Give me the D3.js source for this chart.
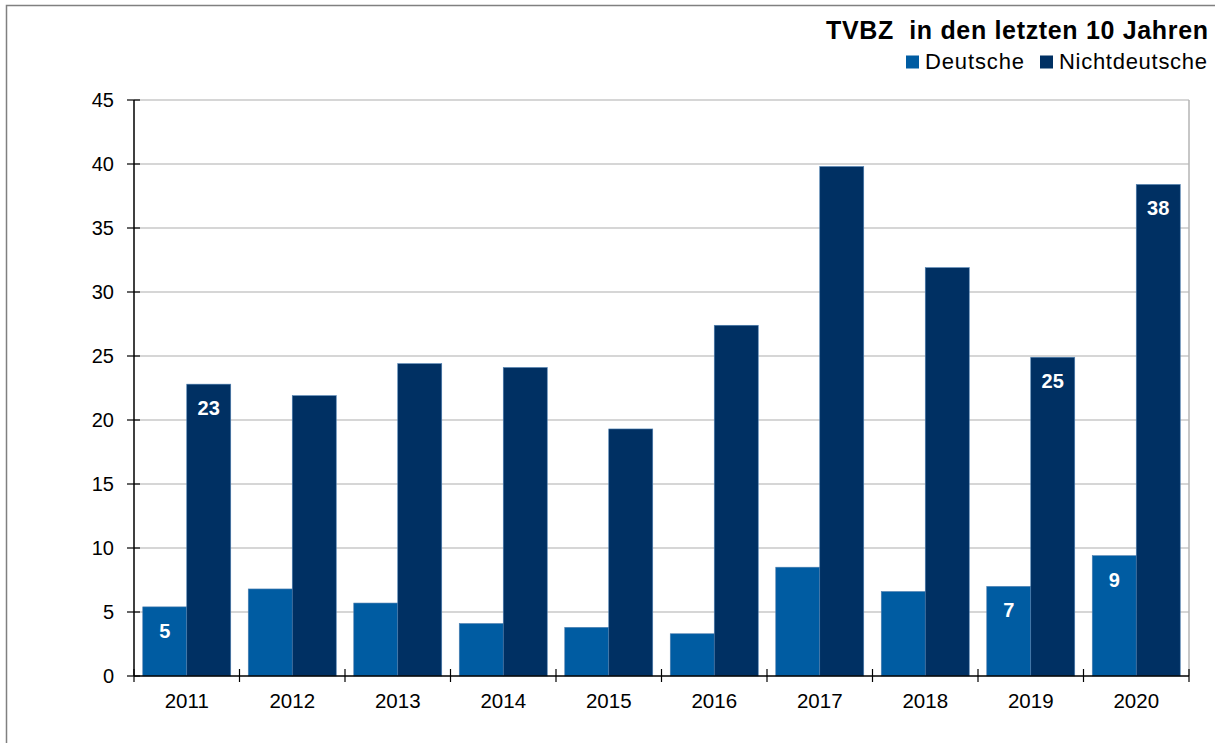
<!DOCTYPE html>
<html>
<head>
<meta charset="utf-8">
<script src="https://cdn.jsdelivr.net/npm/d3@7"></script>
<style>
  body { margin: 0; background: #fff; }
  svg { display: block; font-family: "Liberation Sans", Arial, sans-serif; }
</style>
</head>
<body>
<svg id="chart" width="1215" height="743"></svg>
<script>
"use strict";

// data
const years = ['2011', '2012', '2013', '2014', '2015', '2016', '2017', '2018', '2019', '2020'];
const deutsche = [5.4, 6.8, 5.7, 4.1, 3.8, 3.3, 8.5, 6.6, 7.0, 9.4];
const nichtdeutsche = [22.8, 21.9, 24.4, 24.1, 19.3, 27.4, 39.8, 31.9, 24.9, 38.4];
// which bars carry a value label in the original
const labelYears = ['2011', '2019', '2020'];
const yTicks = [0, 5, 10, 15, 20, 25, 30, 35, 40, 45];
const seriesNames = ['Deutsche', 'Nichtdeutsche'];
const colors = ['#005ca2', '#003063'];

(function () {
  const svg = d3.select('#chart');
  const left = 134, right = 1189, top = 100, bottom = 676;

  // outer frame
  svg.append('path')
    .attr('d', 'M6.5,743 V5.5 H1215')
    .attr('fill', 'none')
    .attr('stroke', '#808080')
    .attr('stroke-width', 1.5);

  const x0 = d3.scaleBand()
    .domain(years)
    .range([left, right])
    .paddingInner(0.166)
    .paddingOuter(0.083);

  const x1 = d3.scaleBand()
    .domain(seriesNames)
    .range([0, x0.bandwidth()]);

  const y = d3.scaleLinear()
    .domain([0, 45])
    .range([bottom, top]);

  // gridlines
  svg.append('g')
    .selectAll('line')
    .data(yTicks.filter(d => d > 0))
    .enter()
    .append('line')
    .attr('x1', left)
    .attr('x2', right)
    .attr('y1', d => y(d))
    .attr('y2', d => y(d))
    .attr('stroke', '#c8c8c8')
    .attr('stroke-width', 1.5);

  // right border of plot area
  svg.append('line')
    .attr('x1', right).attr('x2', right)
    .attr('y1', top).attr('y2', bottom)
    .attr('stroke', '#b4b4b4')
    .attr('stroke-width', 1.5);

  const rows = years.map((yr, i) => ({
    year: yr,
    values: [
      { key: seriesNames[0], val: deutsche[i], c: colors[0] },
      { key: seriesNames[1], val: nichtdeutsche[i], c: colors[1] }
    ]
  }));

  const groups = svg.append('g')
    .selectAll('g')
    .data(rows)
    .enter()
    .append('g')
    .attr('transform', d => 'translate(' + x0(d.year) + ',0)');

  groups.selectAll('rect')
    .data(d => d.values)
    .enter()
    .append('rect')
    .attr('x', d => x1(d.key))
    .attr('width', x1.bandwidth())
    .attr('y', d => y(d.val))
    .attr('height', d => y(0) - y(d.val))
    .attr('fill', d => d.c)
    .attr('stroke', '#4d7fb0')
    .attr('stroke-width', 0.6);

  // value labels
  groups.filter(d => labelYears.indexOf(d.year) >= 0)
    .selectAll('text')
    .data(d => d.values)
    .enter()
    .append('text')
    .attr('x', d => x1(d.key) + x1.bandwidth() / 2)
    .attr('y', d => y(d.val) + 31)
    .attr('text-anchor', 'middle')
    .attr('fill', '#fff')
    .attr('font-weight', 'bold')
    .attr('font-size', '20px')
    .text(d => Math.round(d.val));

  // y axis
  const yAxis = svg.append('g');
  yAxis.append('line')
    .attr('x1', left).attr('x2', left)
    .attr('y1', top).attr('y2', bottom)
    .attr('stroke', '#000').attr('stroke-width', 1.5);
  yAxis.selectAll('line.tick')
    .data(yTicks)
    .enter()
    .append('line')
    .attr('class', 'tick')
    .attr('x1', left - 7).attr('x2', left + 6)
    .attr('y1', d => y(d)).attr('y2', d => y(d))
    .attr('stroke', '#000').attr('stroke-width', 1.2);
  yAxis.selectAll('text')
    .data(yTicks)
    .enter()
    .append('text')
    .attr('x', 114)
    .attr('y', d => y(d) + 7)
    .attr('text-anchor', 'end')
    .attr('font-size', '20px')
    .attr('fill', '#000')
    .text(d => d);

  // x axis
  const xAxis = svg.append('g');
  xAxis.append('line')
    .attr('x1', left).attr('x2', right)
    .attr('y1', bottom).attr('y2', bottom)
    .attr('stroke', '#000').attr('stroke-width', 1.5);
  const step = x0.step();
  xAxis.selectAll('line.tick')
    .data(d3.range(years.length + 1))
    .enter()
    .append('line')
    .attr('class', 'tick')
    .attr('x1', i => left + i * step).attr('x2', i => left + i * step)
    .attr('y1', bottom - 7).attr('y2', bottom + 6)
    .attr('stroke', '#000').attr('stroke-width', 1.2);
  xAxis.selectAll('text')
    .data(years)
    .enter()
    .append('text')
    .attr('x', d => x0(d) + x0.bandwidth() / 2)
    .attr('y', 708)
    .attr('text-anchor', 'middle')
    .attr('font-size', '20.5px')
    .attr('fill', '#000')
    .text(d => d);

  // title
  svg.append('text')
    .attr('x', 826)
    .attr('y', 39)
    .attr('font-size', '25px')
    .attr('font-weight', 'bold')
    .attr('fill', '#000')
    .attr('textLength', 382)
    .attr('lengthAdjust', 'spacing')
    .text('TVBZ \u00a0in den letzten 10 Jahren');

  // legend
  const legend = svg.append('g');
  const legendPos = [906, 1040];
  const legendWidths = [99, 148];
  seriesNames.forEach((name, i) => {
    legend.append('rect')
      .attr('x', legendPos[i])
      .attr('y', 55.5)
      .attr('width', 13)
      .attr('height', 13)
      .attr('fill', colors[i]);
    legend.append('text')
      .attr('x', legendPos[i] + 19)
      .attr('y', 69)
      .attr('font-size', '22px')
      .attr('fill', '#000')
      .attr('textLength', legendWidths[i])
      .attr('lengthAdjust', 'spacing')
      .text(name);
  });
})();
</script>
</body>
</html>
